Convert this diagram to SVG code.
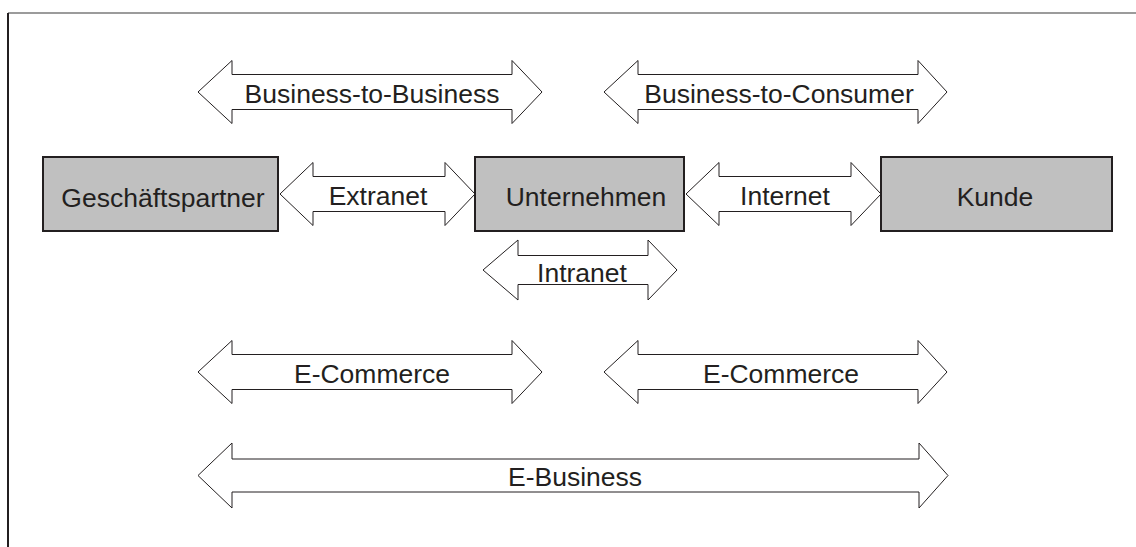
<svg xmlns="http://www.w3.org/2000/svg" width="1136" height="547" viewBox="0 0 1136 547">
  <style>
    .frame-top { stroke: #7a7a7a; stroke-width: 1.6; fill: none; }
    .frame-left { stroke: #231f20; stroke-width: 2; fill: none; }
    .box { fill: #c0c0c0; stroke: #231f20; stroke-width: 2; }
    .arrow { fill: #ffffff; stroke: #231f20; stroke-width: 1; stroke-linejoin: miter; }
    text { font-family: "Liberation Sans", Arial, sans-serif; font-size: 26.5px; fill: #231f20; text-anchor: middle; }
  </style>
  <rect width="1136" height="547" fill="#ffffff"/>

  <!-- page frame -->
  <line class="frame-top" x1="8" y1="13" x2="1136" y2="13"/>
  <line class="frame-left" x1="8" y1="13" x2="8" y2="547"/>

  <!-- double-headed block arrows -->
  <g id="connectors">
    <g id="b2b">
      <polygon class="arrow" points="198,92 232,60.5 232,74.5 512,74.5 512,60.5 542,92 512,123.5 512,109.5 232,109.5 232,123.5"/>
      <text x="372" y="103">Business-to-Business</text>
    </g>
    <g id="b2c">
      <polygon class="arrow" points="604,92 638,60.5 638,74.5 918,74.5 918,60.5 947,92 918,123.5 918,109.5 638,109.5 638,123.5"/>
      <text x="779" y="103">Business-to-Consumer</text>
    </g>
    <g id="extranet">
      <polygon class="arrow" points="280,194 313,162.5 313,176.5 445,176.5 445,162.5 475,194 445,225.5 445,211.5 313,211.5 313,225.5"/>
      <text x="378" y="205">Extranet</text>
    </g>
    <g id="internet">
      <polygon class="arrow" points="686,194 719,162.5 719,176.5 851,176.5 851,162.5 881,194 851,225.5 851,211.5 719,211.5 719,225.5"/>
      <text x="785" y="205">Internet</text>
    </g>
    <g id="intranet">
      <polygon class="arrow" points="483,270 518,240 518,255.5 648,255.5 648,240 677,270 648,300 648,284.5 518,284.5 518,300"/>
      <text x="582" y="282">Intranet</text>
    </g>
    <g id="ecommerce-b2b">
      <polygon class="arrow" points="198,372 232,340.5 232,354.5 512,354.5 512,340.5 542,372 512,403.5 512,389.5 232,389.5 232,403.5"/>
      <text x="372" y="383">E-Commerce</text>
    </g>
    <g id="ecommerce-b2c">
      <polygon class="arrow" points="604,372 638,340.5 638,354.5 918,354.5 918,340.5 947,372 918,403.5 918,389.5 638,389.5 638,403.5"/>
      <text x="781" y="383">E-Commerce</text>
    </g>
    <g id="ebusiness">
      <polygon class="arrow" points="198,475.5 232,443 232,459 919,459 919,443 948,475.5 919,508 919,492 232,492 232,508"/>
      <text x="575" y="486">E-Business</text>
    </g>
  </g>

  <!-- parties -->
  <g id="geschaeftspartner">
    <rect class="box" x="43" y="157" width="235" height="74"/>
    <text x="163" y="207">Geschäftspartner</text>
  </g>
  <g id="unternehmen">
    <rect class="box" x="475" y="157" width="209" height="74"/>
    <text x="586" y="206">Unternehmen</text>
  </g>
  <g id="kunde">
    <rect class="box" x="881" y="157" width="231" height="74"/>
    <text x="995" y="206">Kunde</text>
  </g>
</svg>
